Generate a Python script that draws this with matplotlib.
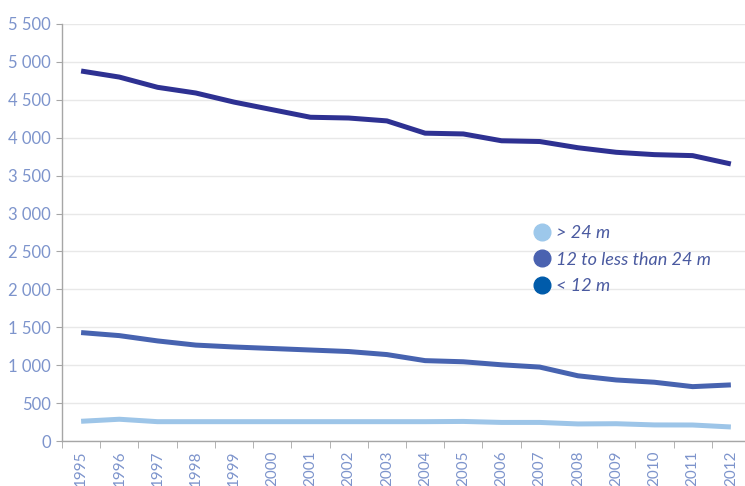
import matplotlib
matplotlib.use('Agg')
import matplotlib.pyplot as plt
from matplotlib.lines import Line2D
import matplotlib.ticker as mticker

years = [str(y) for y in range(1995, 2013)]

# number of vessels by length class
over_24 = [260, 287, 255, 255, 255, 255, 255, 255, 255, 255, 258, 245,
           245, 225, 228, 212, 211, 185]
from_12_to_24 = [1430, 1390, 1320, 1265, 1240, 1220, 1200, 1180, 1140, 1060,
                 1045, 1005, 975, 860, 805, 775, 717, 740]
under_12 = [4880, 4800, 4665, 4590, 4470, 4370, 4270, 4260, 4222, 4060,
            4050, 3960, 3950, 3868, 3808, 3777, 3764, 3654]

labels = ['> 24 m', '12 to less than 24 m', '< 12 m']
line_colors = ['#9dc5e8', '#4763b0', '#2e3192']
legend_colors = ['#9dc8eb', '#4a62b0', '#005baa']

tick_color = '#7d94cc'
text_color = '#4a5aa0'
axis_color = '#a6a6a6'

plt.rcParams['font.family'] = ['Lato', 'DejaVu Sans']

fig = plt.figure(figsize=(7.45, 4.86), dpi=100)
ax = fig.add_axes([62 / 745, 1 - 441 / 486, 1 - 62 / 745, (441 - 24) / 486])

x = list(range(len(years)))
for vals, c in zip([over_24, from_12_to_24, under_12], line_colors):
    ax.plot(x, vals, color=c, lw=3.6, solid_capstyle='butt', zorder=3)

ax.set_ylim(0, 5500)
ax.set_xlim(-0.5, 17.37)
ax.set_yticks(range(0, 5501, 500))
ax.yaxis.set_major_formatter(mticker.FuncFormatter(
    lambda v, p: '{:,}'.format(int(v)).replace(',', ' ')))
ax.set_xticks(x)
ax.set_xticklabels(years, rotation=90)
ax.set_xticks([i - 0.5 for i in range(len(years))], minor=True)

ax.grid(axis='y', color='#e8e8e8', lw=1)
ax.set_axisbelow(True)
for s in ['top', 'right']:
    ax.spines[s].set_visible(False)
for s in ['left', 'bottom']:
    ax.spines[s].set_color(axis_color)
    ax.spines[s].set_linewidth(1)

ax.tick_params(axis='y', colors=axis_color, labelcolor=tick_color,
               labelsize=12, length=4, direction='out', pad=4)
ax.tick_params(axis='x', which='major', length=0, labelcolor=tick_color,
               labelsize=11, pad=7)
ax.tick_params(axis='x', which='minor', length=5, color=axis_color,
               direction='out')

handles = [Line2D([], [], ls='none', marker='o', ms=12, color=c, mec=c)
           for c in legend_colors]
leg = ax.legend(handles, labels, loc='upper left',
                bbox_to_anchor=((522 - 62) / 683, (441 - 218) / 417),
                frameon=False, handletextpad=0.1, labelspacing=0.58,
                borderaxespad=0, handlelength=1.4,
                prop={'size': 13, 'style': 'italic'})
for t in leg.get_texts():
    t.set_color(text_color)

fig.savefig('out.png', dpi=100)
